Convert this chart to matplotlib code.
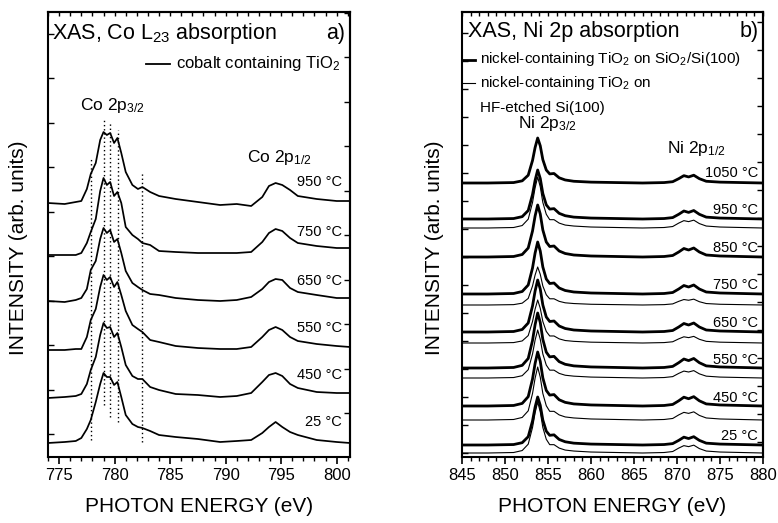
import matplotlib
matplotlib.use("Agg")
import matplotlib.pyplot as plt
import numpy as np
from matplotlib.ticker import MultipleLocator, NullFormatter

plt.rcParams["font.family"] = ["Liberation Sans", "DejaVu Sans"]
plt.rcParams["mathtext.fontset"] = "custom"
plt.rcParams["mathtext.rm"] = "Liberation Sans"
plt.rcParams["mathtext.it"] = "Liberation Sans:italic"
plt.rcParams["mathtext.bf"] = "Liberation Sans:bold"

# ---- panel a) Co L23 edge, stacked spectra (arb. units incl. offset) ----
co_energy = [774.0, 775.5, 776.5, 777.0, 777.5, 777.85, 778.3, 778.7, 779.0, 779.3,
             779.6, 779.95, 780.25, 780.6, 781.0, 781.6, 782.1, 782.5, 783.2, 784.0,
             785.5, 787.5, 789.5, 791.0, 792.3, 793.3, 793.9, 794.5, 795.1, 795.8,
             796.5, 798.2, 800.0, 801.2]
co_labels = ["950 °C", "750 °C", "650 °C", "550 °C", "450 °C", "25 °C"]
co_950 = [254, 253, 255, 256, 268, 283, 294, 317, 325, 322, 324, 314, 319, 304, 285, 272, 268,
          270, 265, 261, 258, 255, 252, 253, 251, 260, 271, 274, 272, 267, 261, 258, 256, 256]
co_750 = [202, 202, 202, 204, 214, 225, 238, 266, 279, 272, 275, 261, 265, 254, 230, 222, 218,
          214, 212, 206, 205, 204, 204, 204, 205, 215, 224, 228, 226, 219, 214, 211, 209, 209]
co_650 = [156, 155, 157, 159, 168, 187, 196, 218, 229, 224, 227, 215, 218, 204, 186, 174, 170,
          167, 163, 162, 159, 157, 156, 157, 160, 168, 175, 178, 177, 169, 165, 162, 159, 159]
co_550 = [107, 107, 108, 108, 120, 137, 148, 170, 182, 177, 180, 170, 175, 162, 146, 132, 128,
          125, 117, 115, 111, 109, 108, 108, 110, 120, 127, 130, 127, 120, 116, 113, 111, 110]
co_450 = [59, 60, 61, 63, 73, 87, 100, 122, 134, 129, 130, 120, 124, 110, 92, 81, 78,
          78, 70, 67, 63, 62, 60, 61, 64, 75, 82, 84, 81, 73, 69, 65, 64, 64]
co_25 = [14, 15, 16, 19, 28, 37, 55, 73, 84, 80, 80, 72, 75, 60, 42, 33, 30,
         29, 26, 22, 20, 18, 15, 16, 17, 24, 30, 35, 30, 25, 22, 17, 15, 14]
co_label_y = [271, 221, 172, 125, 78, 31]

# dotted markers: energy, bottom, top
co_marks = [777.9, 779.0, 779.6, 780.3, 782.5]
co_mark_lo = [17, 52, 40, 35, 15]
co_mark_hi = [299, 339, 334, 327, 284]

# ---- panel b) Ni 2p edge ----
ni_energy = [845, 848, 851, 852, 852.7, 853.2, 853.5, 853.8, 854.1, 854.4, 854.8, 855.2,
             855.7, 856.3, 857.0, 858.0, 860.0, 863.0, 866.0, 868.5, 869.5, 870.2, 870.8,
             871.35, 871.95, 872.6, 873.4, 875.0, 877.5, 880.0]
ni_thick_shape = [0, 0, 0.5, 2.5, 9, 26, 41, 52, 43, 27, 15, 10.5, 11, 6, 3.5, 2, 1, 0.5, 0, 0.5,
                  1.5, 5, 8.5, 7, 9, 5, 2, 1, 0.5, 0]
ni_thin_shape = [0, 0, 0.5, 2.5, 9, 26, 41, 52, 42, 26, 14, 8.5, 8.5, 5, 3, 2, 1, 0.5, 0, 0.5,
                 1.5, 5, 7.5, 6.5, 8, 4.5, 2, 1, 0.5, 0]
ni_labels = ["1050 °C", "950 °C", "850 °C", "750 °C", "650 °C", "550 °C", "450 °C", "25 °C"]
ni_thick_base = [274, 238, 200, 163, 125, 89, 51, 12]
ni_thick_peak = [45, 49, 52, 52, 52, 55, 54, 48]
ni_label_y = [280, 243, 205, 168, 130, 93, 55, 17]
ni_thin_temps = ["950 °C", "750 °C", "650 °C", "550 °C", "450 °C", "25 °C"]
ni_thin_base = [229, 152, 114, 79, 37, 4]
ni_thin_peak = [51, 38, 43, 48, 53, 51]

fig = plt.figure(figsize=(7.78, 5.23), dpi=100)
ax1 = fig.add_axes([48 / 778, 66 / 523, 302 / 778, 445 / 523])
ax2 = fig.add_axes([462 / 778, 66 / 523, 301 / 778, 445 / 523])

# panel a
for ys in [co_950, co_750, co_650, co_550, co_450, co_25]:
    ax1.plot(co_energy, ys, color="black", lw=1.25, solid_joinstyle="round")
ax1.vlines(co_marks, co_mark_lo, co_mark_hi, colors="black", lw=1.0, linestyles=(0, (1, 2)))
for lab, y in zip(co_labels, co_label_y):
    ax1.text(800.45, y, lab, ha="right", va="baseline", fontsize=10.5)
ax1.text(774.4, 418, "XAS, Co L$_{23}$ absorption", ha="left", va="baseline", fontsize=15.5)
ax1.text(800.74, 418, "a)", ha="right", va="baseline", fontsize=15.5)
ax1.plot([782.85, 785.0], [393, 393], color="black", lw=1.3)
ax1.text(785.5, 389, "cobalt containing TiO$_2$", ha="left", va="baseline", fontsize=12)
ax1.text(776.9, 347, "Co 2p$_{3/2}$", ha="left", va="baseline", fontsize=12.5)
ax1.text(791.9, 295, "Co 2p$_{1/2}$", ha="left", va="baseline", fontsize=12.5)
ax1.set_xlim(774.0, 801.2)
ax1.set_ylim(0, 445)
ax1.xaxis.set_major_locator(MultipleLocator(5))
ax1.xaxis.set_minor_locator(MultipleLocator(1))
ax1.set_yticks(np.arange(23, 445, 44.5))
ax1.yaxis.set_major_formatter(NullFormatter())

# panel b
for base, pk in zip(ni_thin_base, ni_thin_peak):
    ys = base + np.array(ni_thin_shape) * pk / 52.0
    ax2.plot(ni_energy, ys, color="black", lw=0.8, zorder=2)
for base, pk in zip(ni_thick_base, ni_thick_peak):
    ys = base + np.array(ni_thick_shape) * pk / 52.0
    ax2.plot(ni_energy, ys, color="black", lw=2.0, zorder=3, solid_joinstyle="round")
for lab, y in zip(ni_labels, ni_label_y):
    ax2.text(879.4, y, lab, ha="right", va="baseline", fontsize=10.5)
ax2.text(845.7, 420, "XAS, Ni 2p absorption", ha="left", va="baseline", fontsize=15.5)
ax2.text(879.46, 420, "b)", ha="right", va="baseline", fontsize=15.5)
ax2.plot([845.15, 846.5], [397, 397], color="black", lw=2.0)
ax2.text(847.1, 394, "nickel-containing TiO$_2$ on SiO$_2$/Si(100)", ha="left", va="baseline", fontsize=11)
ax2.plot([845.15, 846.5], [374, 374], color="black", lw=0.8)
ax2.text(847.1, 370, "nickel-containing TiO$_2$ on", ha="left", va="baseline", fontsize=11)
ax2.text(847.1, 345, "HF-etched Si(100)", ha="left", va="baseline", fontsize=11)
ax2.text(851.5, 329, "Ni 2p$_{3/2}$", ha="left", va="baseline", fontsize=12.5)
ax2.text(868.8, 304, "Ni 2p$_{1/2}$", ha="left", va="baseline", fontsize=12.5)
ax2.set_xlim(845, 880)
ax2.set_ylim(0, 445)
ax2.xaxis.set_major_locator(MultipleLocator(5))
ax2.xaxis.set_minor_locator(MultipleLocator(1))
ax2.set_yticks(np.arange(4, 445, 28))
ax2.yaxis.set_major_formatter(NullFormatter())

for ax, ytop, lx in [(ax1, np.arange(44, 445, 44.5), -0.067), (ax2, np.arange(15, 445, 28), -0.06)]:
    for sp in ax.spines.values():
        sp.set_linewidth(1.5)
    ax.tick_params(axis="x", which="major", direction="out", length=5, width=1.2,
                   labelsize=12, pad=3)
    ax.tick_params(axis="x", which="minor", direction="out", length=3, width=1.0)
    ax.tick_params(axis="y", which="major", direction="in", length=4, width=1.0)
    top = ax.secondary_xaxis("top")
    top.xaxis.set_major_locator(MultipleLocator(5))
    top.xaxis.set_minor_locator(MultipleLocator(1))
    top.tick_params(which="both", direction="in", length=3, width=1.0, labeltop=False)
    top.spines["top"].set_linewidth(1.5)
    right = ax.secondary_yaxis("right")
    right.set_yticks(ytop)
    right.tick_params(direction="in", length=4, width=1.0, labelright=False)
    right.spines["right"].set_linewidth(1.5)
    ax.set_xlabel("PHOTON ENERGY (eV)", fontsize=15, labelpad=10)
    ax.set_ylabel("INTENSITY (arb. units)", fontsize=15)
    ax.yaxis.set_label_coords(lx, 0.47)

fig.savefig("out.png", dpi=100)
